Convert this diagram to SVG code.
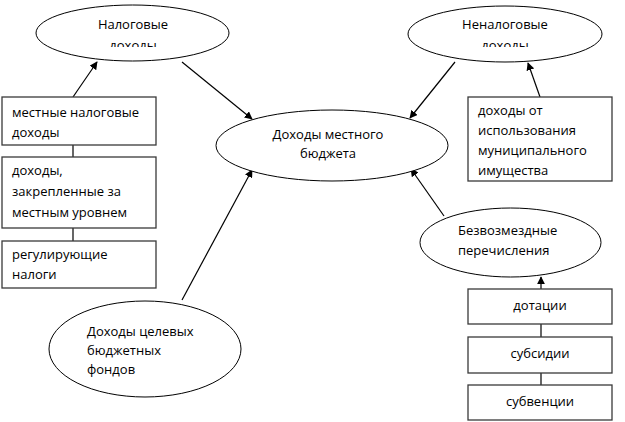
<svg xmlns="http://www.w3.org/2000/svg" width="625" height="422" viewBox="0 0 625 422">
<style>
.sh{fill:#fff;stroke:#000;stroke-width:1}
.bx{fill:#fff;stroke:#3a3a3a;stroke-width:1.3}
text{font-family:"Open Sans","DejaVu Sans",sans-serif;font-size:13px;fill:#000}
.c{text-anchor:middle}
.ln{stroke:#000;stroke-width:1.2;fill:none}
.ar{stroke:#000;stroke-width:1.2;fill:none;marker-end:url(#ah)}
</style>
<defs>
<marker id="ah" viewBox="0 0 10 10" refX="9" refY="5" markerWidth="8" markerHeight="8" markerUnits="userSpaceOnUse" orient="auto">
<path d="M0,0 L10,5 L0,10 Z" fill="#000"/>
</marker>
<clipPath id="cl1"><rect x="0" y="0" width="625" height="47"/></clipPath>
</defs>
<g id="connectors">
<line class="ar" x1="73" y1="97" x2="97" y2="62"/>
<line class="ar" x1="182" y1="62" x2="252" y2="119"/>
<line class="ar" x1="455" y1="62" x2="410" y2="118"/>
<line class="ar" x1="540" y1="97" x2="528" y2="63"/>
<line class="ar" x1="444" y1="216" x2="411" y2="169"/>
<line class="ar" x1="182" y1="300" x2="252" y2="170"/>
<line class="ar" x1="541" y1="289" x2="541" y2="277"/>
<line class="ln" x1="73" y1="145" x2="73" y2="157"/>
<line class="ln" x1="73" y1="228" x2="73" y2="241"/>
<line class="ln" x1="541" y1="324" x2="541" y2="337"/>
<line class="ln" x1="541" y1="373" x2="541" y2="385"/>
</g>
<g id="nalog">
<ellipse class="sh" cx="132.5" cy="33" rx="96.5" ry="28"/>
<text class="c" x="133" y="29">Налоговые</text>
<text class="c" x="133" y="50" clip-path="url(#cl1)">доходы</text>
</g>
<g id="nenalog">
<ellipse class="sh" cx="505" cy="34" rx="97" ry="28"/>
<text class="c" x="505" y="29">Неналоговые</text>
<text class="c" x="505" y="50" clip-path="url(#cl1)">доходы</text>
</g>
<g id="center">
<ellipse class="sh" cx="332" cy="145.5" rx="116" ry="35.5"/>
<text class="c" x="328" y="139">Доходы местного</text>
<text class="c" x="328" y="158">бюджета</text>
</g>
<g id="box1">
<rect class="bx" x="2" y="97" width="154" height="48"/>
<text x="12" y="117">местные налоговые</text>
<text x="12" y="137">доходы</text>
</g>
<g id="box2">
<rect class="bx" x="2" y="157" width="154" height="71"/>
<text x="12" y="175">доходы,</text>
<text x="12" y="196">закрепленные за</text>
<text x="12" y="217">местным уровнем</text>
</g>
<g id="box3">
<rect class="bx" x="2" y="241" width="154" height="47"/>
<text x="12" y="259">регулирующие</text>
<text x="12" y="279">налоги</text>
</g>
<g id="box4">
<rect class="bx" x="468" y="97" width="144" height="84"/>
<text x="478" y="115">доходы от</text>
<text x="478" y="135">использования</text>
<text x="478" y="155">муниципального</text>
<text x="478" y="175">имущества</text>
</g>
<g id="bezv">
<ellipse class="sh" cx="510.5" cy="242.5" rx="90.5" ry="34.5"/>
<text x="458" y="235">Безвозмездные</text>
<text x="458" y="255">перечисления</text>
</g>
<g id="dot">
<rect class="bx" x="468" y="289" width="144" height="35"/>
<text class="c" x="540" y="310">дотации</text>
</g>
<g id="sub">
<rect class="bx" x="468" y="337" width="144" height="36"/>
<text class="c" x="540" y="358">субсидии</text>
</g>
<g id="subv">
<rect class="bx" x="468" y="385" width="144" height="35"/>
<text class="c" x="540" y="406">субвенции</text>
</g>
<g id="celev">
<ellipse class="sh" cx="145" cy="349" rx="96" ry="48"/>
<text x="87" y="336">Доходы целевых</text>
<text x="87" y="355">бюджетных</text>
<text x="87" y="374">фондов</text>
</g>
</svg>
